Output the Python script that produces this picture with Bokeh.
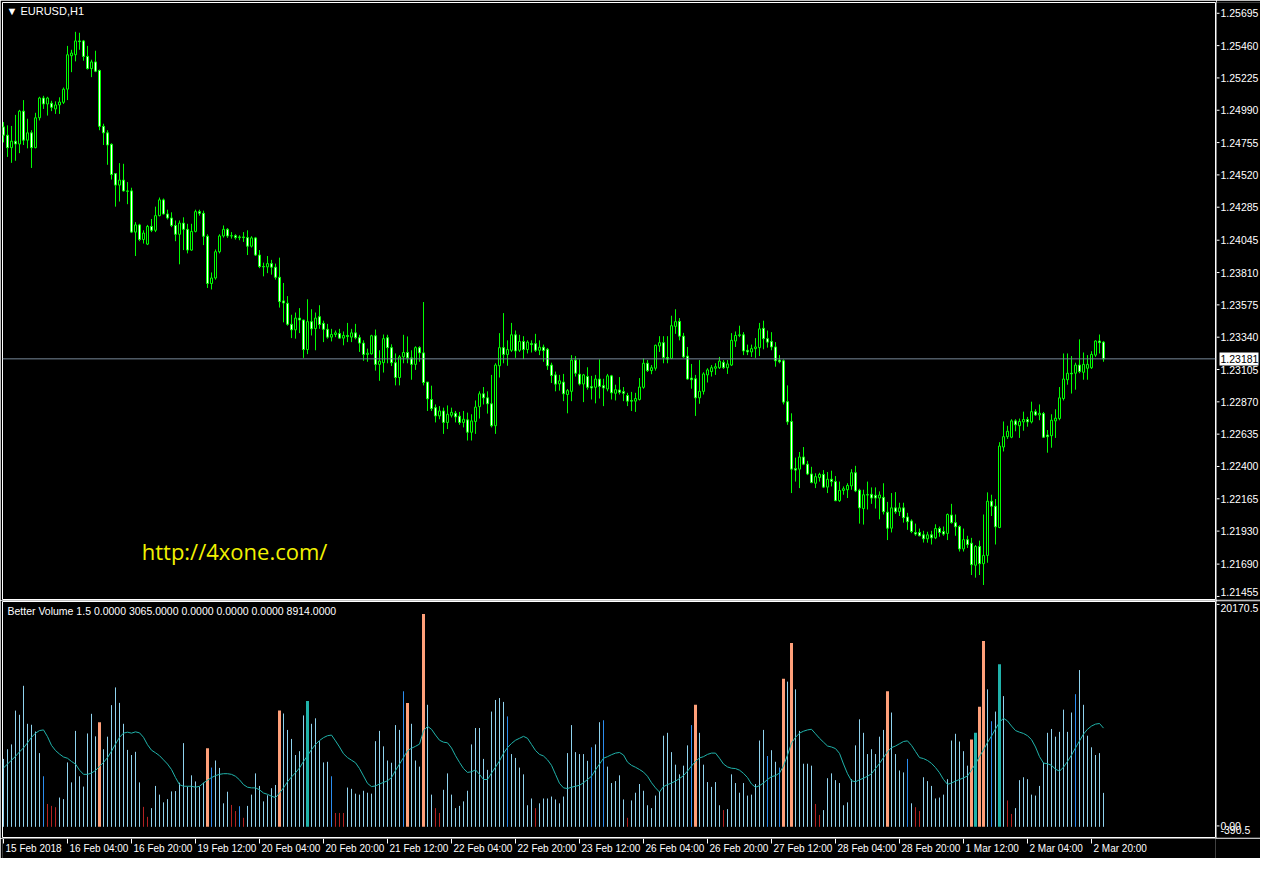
from bokeh.plotting import figure
from bokeh.layouts import column, row
from bokeh.models import Range1d, Span, Label
from bokeh.core.properties import value
from bokeh.embed import file_html
from bokeh.resources import INLINE

# EURUSD H1, 15 Feb 2018 12:00 .. 2 Mar 2018 23:00 (276 bars)
opens = [
    1.24859, 1.24799, 1.24709, 1.24756, 1.24735, 1.24973, 1.24763, 1.24816, 1.24709, 1.24925,
    1.25068, 1.25025, 1.25030, 1.24989, 1.25018, 1.25037, 1.25132, 1.25374, 1.25381, 1.25481,
    1.25481, 1.25369, 1.25281, 1.25329, 1.25267, 1.24863, 1.24816, 1.24733, 1.24521, 1.24438,
    1.24474, 1.24396, 1.24396, 1.24098, 1.24150, 1.24044, 1.24011, 1.24139, 1.24111, 1.24217,
    1.24331, 1.24229, 1.24200, 1.24146, 1.24082, 1.24163, 1.24118, 1.23968, 1.24103, 1.24246,
    1.24234, 1.24068, 1.23726, 1.23766, 1.23956, 1.24070, 1.24118, 1.24070, 1.24072, 1.24058,
    1.24063, 1.24058, 1.23996, 1.24056, 1.23932, 1.23849, 1.23846, 1.23870, 1.23844, 1.23771,
    1.23600, 1.23583, 1.23431, 1.23391, 1.23476, 1.23462, 1.23248, 1.23450, 1.23400, 1.23486,
    1.23438, 1.23395, 1.23338, 1.23357, 1.23364, 1.23331, 1.23350, 1.23338, 1.23369, 1.23334,
    1.23295, 1.23213, 1.23217, 1.23348, 1.23141, 1.23153, 1.23334, 1.23262, 1.23153, 1.23046,
    1.23195, 1.23227, 1.23188, 1.23141, 1.23262, 1.23224, 1.23013, 1.22887, 1.22828, 1.22768,
    1.22804, 1.22721, 1.22773, 1.22787, 1.22766, 1.22721, 1.22740, 1.22650, 1.22728, 1.22835,
    1.22928, 1.22899, 1.22856, 1.22697, 1.23131, 1.23262, 1.23213, 1.23243, 1.23355, 1.23243,
    1.23307, 1.23248, 1.23291, 1.23291, 1.23243, 1.23265, 1.23250, 1.23136, 1.23065, 1.23000,
    1.23013, 1.22923, 1.22946, 1.23172, 1.23070, 1.22999, 1.23053, 1.22980, 1.22975, 1.23035,
    1.22987, 1.22963, 1.23058, 1.22932, 1.22956, 1.22944, 1.22916, 1.22880, 1.22875, 1.22887,
    1.22975, 1.23149, 1.23096, 1.23113, 1.23274, 1.23298, 1.23191, 1.23184, 1.23416, 1.23452,
    1.23345, 1.23201, 1.23042, 1.23037, 1.22899, 1.22946, 1.23065, 1.23089, 1.23113, 1.23117,
    1.23156, 1.23117, 1.23136, 1.23310, 1.23350, 1.23355, 1.23243, 1.23231, 1.23255, 1.23262,
    1.23402, 1.23327, 1.23307, 1.23267, 1.23172, 1.23167, 1.22871, 1.22728, 1.22388, 1.22383,
    1.22471, 1.22419, 1.22348, 1.22281, 1.22322, 1.22345, 1.22253, 1.22310, 1.22293, 1.22155,
    1.22229, 1.22234, 1.22262, 1.22357, 1.22231, 1.22098, 1.22198, 1.22201, 1.22194, 1.22174,
    1.22179, 1.22072, 1.21956, 1.22103, 1.22075, 1.22103, 1.22037, 1.22008, 1.21925, 1.21925,
    1.21908, 1.21879, 1.21908, 1.21886, 1.21954, 1.21932, 1.21918, 1.22051, 1.21996, 1.21968,
    1.21806, 1.21873, 1.21847, 1.21688, 1.21823, 1.21699, 1.21759, 1.22151, 1.22115, 1.21961,
    1.22543, 1.22618, 1.22614, 1.22732, 1.22697, 1.22725, 1.22742, 1.22725, 1.22799, 1.22775,
    1.22785, 1.22630, 1.22625, 1.22732, 1.22749, 1.22894, 1.23030, 1.23077, 1.23077, 1.23136,
    1.23084, 1.23113, 1.23117, 1.23208, 1.23310, 1.23302,
]
highs = [
    1.24894, 1.24870, 1.24866, 1.24946, 1.24982, 1.25053, 1.24918, 1.24835, 1.24961, 1.25077,
    1.25084, 1.25077, 1.25048, 1.25044, 1.25073, 1.25144, 1.25445, 1.25417, 1.25547, 1.25540,
    1.25488, 1.25445, 1.25345, 1.25410, 1.25274, 1.24882, 1.24835, 1.24740, 1.24521, 1.24597,
    1.24592, 1.24460, 1.24419, 1.24170, 1.24158, 1.24111, 1.24150, 1.24193, 1.24282, 1.24348,
    1.24341, 1.24260, 1.24241, 1.24182, 1.24182, 1.24205, 1.24158, 1.24158, 1.24260, 1.24260,
    1.24253, 1.24082, 1.23806, 1.23972, 1.24082, 1.24146, 1.24127, 1.24098, 1.24082, 1.24075,
    1.24098, 1.24111, 1.24068, 1.24063, 1.23968, 1.23877, 1.23925, 1.23897, 1.23870, 1.23913,
    1.23730, 1.23635, 1.23500, 1.23516, 1.23548, 1.23464, 1.23612, 1.23540, 1.23516, 1.23569,
    1.23457, 1.23434, 1.23398, 1.23386, 1.23398, 1.23379, 1.23441, 1.23398, 1.23434, 1.23355,
    1.23315, 1.23255, 1.23355, 1.23393, 1.23243, 1.23357, 1.23355, 1.23286, 1.23220, 1.23208,
    1.23355, 1.23343, 1.23243, 1.23272, 1.23272, 1.23592, 1.23013, 1.22987, 1.22851, 1.22839,
    1.22828, 1.22844, 1.22828, 1.22804, 1.22797, 1.22804, 1.22792, 1.22780, 1.22880, 1.22946,
    1.22977, 1.22946, 1.23065, 1.23149, 1.23367, 1.23512, 1.23315, 1.23441, 1.23386, 1.23355,
    1.23345, 1.23315, 1.23315, 1.23362, 1.23315, 1.23284, 1.23260, 1.23153, 1.23089, 1.23065,
    1.23072, 1.22963, 1.23208, 1.23201, 1.23177, 1.23072, 1.23120, 1.23058, 1.23065, 1.23177,
    1.23037, 1.23072, 1.23065, 1.22994, 1.23049, 1.22977, 1.22935, 1.22942, 1.22935, 1.23042,
    1.23184, 1.23172, 1.23136, 1.23284, 1.23345, 1.23345, 1.23345, 1.23493, 1.23540, 1.23476,
    1.23369, 1.23267, 1.23144, 1.23065, 1.23172, 1.23084, 1.23113, 1.23136, 1.23149, 1.23195,
    1.23172, 1.23172, 1.23367, 1.23379, 1.23421, 1.23374, 1.23284, 1.23284, 1.23331, 1.23441,
    1.23457, 1.23386, 1.23374, 1.23302, 1.23208, 1.23177, 1.22989, 1.22787, 1.22466, 1.22507,
    1.22543, 1.22443, 1.22400, 1.22353, 1.22357, 1.22376, 1.22362, 1.22372, 1.22333, 1.22293,
    1.22258, 1.22281, 1.22383, 1.22407, 1.22241, 1.22234, 1.22293, 1.22251, 1.22251, 1.22222,
    1.22281, 1.22146, 1.22210, 1.22217, 1.22140, 1.22140, 1.22067, 1.22020, 1.21989, 1.21953,
    1.21937, 1.21930, 1.21937, 1.21984, 1.21968, 1.21968, 1.22062, 1.22132, 1.22055, 1.21977,
    1.21953, 1.21901, 1.21886, 1.21834, 1.21866, 1.22055, 1.22215, 1.22198, 1.22167, 1.22578,
    1.22728, 1.22697, 1.22744, 1.22744, 1.22749, 1.22799, 1.22761, 1.22871, 1.22816, 1.22851,
    1.22797, 1.22666, 1.22780, 1.22816, 1.22977, 1.23220, 1.23220, 1.23201, 1.23153, 1.23322,
    1.23227, 1.23208, 1.23236, 1.23315, 1.23357, 1.23310,
]
lows = [
    1.24747, 1.24642, 1.24599, 1.24614, 1.24669, 1.24728, 1.24704, 1.24562, 1.24704, 1.24906,
    1.24989, 1.24941, 1.24973, 1.24953, 1.24953, 1.25025, 1.25053, 1.25255, 1.25333, 1.25417,
    1.25338, 1.25274, 1.25219, 1.25255, 1.24835, 1.24728, 1.24585, 1.24478, 1.24282, 1.24319,
    1.24391, 1.24300, 1.24091, 1.23925, 1.24032, 1.24015, 1.24004, 1.24098, 1.24098, 1.24212,
    1.24225, 1.24189, 1.24134, 1.24032, 1.23865, 1.23968, 1.23944, 1.23963, 1.24096, 1.24217,
    1.24004, 1.23694, 1.23683, 1.23754, 1.23944, 1.24058, 1.24056, 1.24051, 1.24044, 1.24039,
    1.24027, 1.23932, 1.23986, 1.23925, 1.23837, 1.23778, 1.23801, 1.23790, 1.23754, 1.23552,
    1.23445, 1.23421, 1.23331, 1.23327, 1.23367, 1.23188, 1.23215, 1.23350, 1.23243, 1.23398,
    1.23302, 1.23327, 1.23307, 1.23338, 1.23327, 1.23279, 1.23302, 1.23302, 1.23322, 1.23231,
    1.23167, 1.23160, 1.23213, 1.23096, 1.23022, 1.23082, 1.23149, 1.23129, 1.22989, 1.22989,
    1.23149, 1.23149, 1.23030, 1.23101, 1.23160, 1.22989, 1.22804, 1.22804, 1.22721, 1.22744,
    1.22638, 1.22673, 1.22757, 1.22721, 1.22704, 1.22685, 1.22590, 1.22590, 1.22638, 1.22749,
    1.22851, 1.22785, 1.22685, 1.22638, 1.23046, 1.23149, 1.23131, 1.23231, 1.23188, 1.23231,
    1.23179, 1.23220, 1.23227, 1.23231, 1.23208, 1.23160, 1.23101, 1.23006, 1.22946, 1.22951,
    1.22875, 1.22787, 1.22875, 1.23053, 1.22989, 1.22868, 1.22958, 1.22887, 1.22859, 1.22894,
    1.22839, 1.22946, 1.22887, 1.22880, 1.22923, 1.22875, 1.22839, 1.22804, 1.22797, 1.22880,
    1.22965, 1.23086, 1.23070, 1.23096, 1.23231, 1.23149, 1.23149, 1.23179, 1.23362, 1.23315,
    1.23188, 1.23030, 1.22965, 1.22768, 1.22856, 1.22923, 1.23010, 1.23053, 1.23065, 1.23108,
    1.23108, 1.23072, 1.23129, 1.23267, 1.23338, 1.23208, 1.23208, 1.23195, 1.23188, 1.23201,
    1.23250, 1.23262, 1.23243, 1.23124, 1.23149, 1.22851, 1.22704, 1.22210, 1.22293, 1.22246,
    1.22412, 1.22340, 1.22281, 1.22246, 1.22293, 1.22246, 1.22210, 1.22258, 1.22151, 1.22146,
    1.22198, 1.22174, 1.22234, 1.22217, 1.21989, 1.21982, 1.22091, 1.22132, 1.22098, 1.22020,
    1.22055, 1.21870, 1.21925, 1.22060, 1.22044, 1.21996, 1.21944, 1.21920, 1.21901, 1.21897,
    1.21852, 1.21851, 1.21838, 1.21877, 1.21894, 1.21901, 1.21870, 1.21989, 1.21901, 1.21787,
    1.21787, 1.21813, 1.21617, 1.21598, 1.21617, 1.21545, 1.21706, 1.22044, 1.21838, 1.21956,
    1.22511, 1.22602, 1.22607, 1.22657, 1.22609, 1.22661, 1.22690, 1.22714, 1.22768, 1.22737,
    1.22609, 1.22502, 1.22538, 1.22609, 1.22737, 1.22880, 1.22994, 1.22930, 1.22958, 1.23077,
    1.23030, 1.23030, 1.23108, 1.23195, 1.23220, 1.23160,
]
closes = [
    1.24799, 1.24709, 1.24756, 1.24735, 1.24973, 1.24763, 1.24816, 1.24709, 1.24925, 1.25068,
    1.25025, 1.25068, 1.25001, 1.25018, 1.25039, 1.25132, 1.25381, 1.25393, 1.25481, 1.25476,
    1.25369, 1.25281, 1.25329, 1.25262, 1.24863, 1.24816, 1.24728, 1.24514, 1.24438, 1.24474,
    1.24396, 1.24393, 1.24098, 1.24150, 1.24044, 1.24091, 1.24139, 1.24111, 1.24217, 1.24331,
    1.24229, 1.24200, 1.24146, 1.24082, 1.24163, 1.24118, 1.23968, 1.24103, 1.24246, 1.24234,
    1.24068, 1.23726, 1.23766, 1.23956, 1.24070, 1.24118, 1.24070, 1.24072, 1.24058, 1.24063,
    1.24058, 1.23996, 1.24056, 1.23932, 1.23849, 1.23846, 1.23870, 1.23844, 1.23771, 1.23595,
    1.23585, 1.23431, 1.23391, 1.23476, 1.23462, 1.23248, 1.23450, 1.23398, 1.23476, 1.23429,
    1.23395, 1.23338, 1.23357, 1.23369, 1.23331, 1.23350, 1.23343, 1.23369, 1.23334, 1.23295,
    1.23213, 1.23222, 1.23348, 1.23141, 1.23165, 1.23327, 1.23262, 1.23153, 1.23046, 1.23195,
    1.23227, 1.23188, 1.23141, 1.23262, 1.23224, 1.23010, 1.22892, 1.22821, 1.22768, 1.22804,
    1.22721, 1.22780, 1.22794, 1.22761, 1.22721, 1.22744, 1.22650, 1.22732, 1.22832, 1.22928,
    1.22899, 1.22856, 1.22697, 1.23136, 1.23262, 1.23213, 1.23248, 1.23355, 1.23238, 1.23307,
    1.23248, 1.23302, 1.23284, 1.23243, 1.23265, 1.23241, 1.23131, 1.23060, 1.22998, 1.23022,
    1.22928, 1.22951, 1.23172, 1.23077, 1.22999, 1.23065, 1.22975, 1.22970, 1.23035, 1.22982,
    1.22970, 1.23058, 1.22935, 1.22958, 1.22939, 1.22932, 1.22875, 1.22875, 1.22894, 1.22977,
    1.23149, 1.23096, 1.23117, 1.23279, 1.23298, 1.23191, 1.23179, 1.23421, 1.23450, 1.23345,
    1.23195, 1.23035, 1.23030, 1.22899, 1.22946, 1.23072, 1.23101, 1.23117, 1.23124, 1.23165,
    1.23117, 1.23144, 1.23315, 1.23350, 1.23355, 1.23238, 1.23231, 1.23255, 1.23267, 1.23398,
    1.23327, 1.23302, 1.23267, 1.23167, 1.23160, 1.22868, 1.22725, 1.22383, 1.22376, 1.22471,
    1.22419, 1.22348, 1.22286, 1.22329, 1.22345, 1.22253, 1.22310, 1.22293, 1.22155, 1.22229,
    1.22241, 1.22265, 1.22357, 1.22226, 1.22103, 1.22198, 1.22196, 1.22174, 1.22174, 1.22196,
    1.22075, 1.21956, 1.22103, 1.22075, 1.22103, 1.22032, 1.22003, 1.21932, 1.21913, 1.21901,
    1.21879, 1.21908, 1.21886, 1.21954, 1.21925, 1.21913, 1.22055, 1.21996, 1.21966, 1.21806,
    1.21873, 1.21837, 1.21692, 1.21823, 1.21699, 1.21759, 1.22151, 1.22115, 1.21966, 1.22550,
    1.22618, 1.22657, 1.22732, 1.22704, 1.22728, 1.22742, 1.22725, 1.22799, 1.22775, 1.22787,
    1.22614, 1.22618, 1.22737, 1.22752, 1.22899, 1.23035, 1.23077, 1.23072, 1.23136, 1.23089,
    1.23141, 1.23141, 1.23213, 1.23310, 1.23298, 1.23181,
]
volumes = [
    6134, 7006, 7442, 10494, 10116, 12733, 9302, 9215, 8605, 6657,
    4564, 2064, 1890, 1773, 2645, 2500, 5814, 4012, 8663, 4564,
    3634, 8430, 10204, 8169, 9448, 7006, 8140, 10988, 12587, 11192,
    9302, 6948, 6483, 6773, 4012, 1802, 901, 1686, 3692, 2907,
    2209, 2500, 3198, 3227, 3983, 7558, 3634, 4651, 4099, 3634,
    3983, 7093, 5349, 5988, 5320, 2122, 3169, 1977, 1424, 1860,
    814, 1890, 2907, 4826, 3692, 2297, 2849, 3488, 3779, 10494,
    10233, 8750, 7936, 6483, 6831, 10058, 11366, 9302, 9797, 7733,
    5814, 5872, 4564, 1250, 1250, 1250, 3547, 3430, 2994, 2907,
    3256, 3081, 2994, 7733, 8663, 7268, 5988, 5785, 9186, 8750,
    12238, 11192, 9302, 5988, 5436, 19215, 11018, 2907, 1686, 1250,
    3343, 4826, 2907, 1686, 1890, 2297, 3256, 7442, 8924, 8924,
    6134, 5145, 10407, 11454, 11628, 11279, 9971, 6570, 6221, 5349,
    4738, 1948, 2558, 1686, 2122, 2558, 2558, 2733, 2471, 2122,
    2733, 6657, 9186, 6744, 6570, 6570, 5959, 7180, 7442, 9448,
    9622, 5436, 3954, 4128, 4651, 2471, 814, 2384, 3081, 3866,
    3256, 1948, 1686, 2820, 3169, 8227, 8488, 6744, 5611, 4738,
    5523, 7355, 9186, 11018, 8488, 5611, 4041, 3605, 4041, 1948,
    1512, 1599, 4738, 3954, 3081, 3954, 2820, 2907, 3866, 7791,
    8750, 6395, 6919, 5872, 5349, 13372, 13111, 16599, 12413, 8663,
    5698, 5698, 5523, 2064, 1076, 1512, 4390, 4826, 4215, 3954,
    1948, 2209, 4302, 7355, 9709, 8488, 6570, 7006, 6570, 8140,
    8750, 12238, 10320, 6570, 5087, 4913, 6134, 2122, 1773, 1424,
    4477, 4128, 3692, 2558, 2645, 2907, 4302, 7791, 8401, 7704,
    6831, 5523, 7878, 8488, 10843, 16773, 12413, 9535, 10407, 14680,
    11802, 2384, 1163, 1686, 4215, 4477, 4302, 2907, 2820, 3692,
    5785, 8488, 8837, 8140, 8576, 10581, 8576, 10320, 11977, 14157,
    11018, 8227, 7180, 6483, 6657, 3065,
]
volume_avg = [
    5320, 5669, 6017, 6366, 6773, 7122, 7587, 8081, 8459, 8692,
    8750, 8140, 7355, 6890, 6570, 6308, 6192, 5901, 5669, 5116,
    4738, 4738, 4855, 5087, 5465, 5814, 6250, 6831, 7471, 8081,
    8459, 8547, 8459, 8576, 8488, 8081, 7413, 6919, 6686, 6424,
    6047, 5669, 5174, 4448, 3808, 3663, 3663, 3663, 3576, 3663,
    3954, 4215, 4448, 4622, 4738, 4797, 4797, 4738, 4564, 4244,
    3808, 3576, 3517, 3517, 3343, 3052, 2936, 2762, 2645, 3052,
    3517, 4070, 4506, 4884, 5320, 5901, 6424, 6977, 7442, 7791,
    8052, 8227, 8285, 7762, 7209, 6599, 6250, 6017, 5785, 5262,
    4593, 3924, 3634, 3692, 3866, 4012, 4157, 4448, 5087, 5669,
    6250, 6890, 7093, 7268, 7471, 8663, 9070, 8808, 8285, 7820,
    7645, 7587, 7122, 6424, 5814, 5262, 4913, 4971, 5145, 4738,
    4273, 4273, 4855, 5378, 5959, 6628, 7151, 7529, 7820, 7994,
    8169, 7994, 7442, 6890, 6541, 6395, 6047, 5552, 4738, 3924,
    3517, 3459, 3576, 3663, 3750, 3983, 4273, 4564, 5145, 5669,
    6192, 6337, 6512, 6657, 6715, 6483, 5843, 5552, 5378, 5174,
    4942, 4564, 3983, 3517, 3140, 3634, 3808, 3954, 4128, 4361,
    4622, 5029, 5494, 5901, 6221, 6337, 6541, 6657, 6657, 6192,
    5669, 5407, 5291, 5262, 5116, 4826, 4448, 3866, 3576, 3721,
    3954, 4273, 4535, 4622, 4855, 5494, 6483, 7558, 8081, 8459,
    8634, 8750, 8808, 8401, 7994, 7645, 7297, 7209, 7064, 6628,
    5669, 4797, 4157, 4070, 4244, 4390, 4564, 4797, 5262, 5727,
    6250, 6773, 7151, 7297, 7500, 7704, 7762, 7355, 6802, 6250,
    6163, 5988, 5727, 5349, 4884, 4273, 3837, 3954, 4128, 4273,
    4419, 4593, 5116, 5698, 6337, 6948, 7616, 8198, 8837, 9448,
    9797, 9564, 9099, 8692, 8547, 8430, 8227, 7878, 7209, 6337,
    5756, 5698, 5552, 5204, 5029, 5378, 5901, 6483, 7122, 7762,
    8372, 8808, 9099, 9273, 9331, 8914,
]
# bar colouring of the Better Volume indicator
blue_bars = [10, 52, 59, 82, 100, 126, 147, 150, 172, 191, 194, 226, 247, 268]
red_bars = [11, 12, 13, 35, 36, 57, 58, 60, 83, 84, 85, 108, 109, 133, 156, 180,
            203, 204, 228, 229, 251, 252]
salmon_bars = [24, 51, 69, 101, 105, 173, 195, 197, 221, 242, 244, 245]
teal_bars = [76, 243, 249]

time_labels = ["15 Feb 2018", "16 Feb 04:00", "16 Feb 20:00", "19 Feb 12:00", "20 Feb 04:00",
               "20 Feb 20:00", "21 Feb 12:00", "22 Feb 04:00", "22 Feb 20:00", "23 Feb 12:00",
               "26 Feb 04:00", "26 Feb 20:00", "27 Feb 12:00", "28 Feb 04:00", "28 Feb 20:00",
               "1 Mar 12:00", "2 Mar 04:00", "2 Mar 20:00"]
price_ticks = [1.25695, 1.25460, 1.25225, 1.24990, 1.24755, 1.24520, 1.24285, 1.24045,
               1.23810, 1.23575, 1.23340, 1.23105, 1.22870, 1.22635, 1.22400, 1.22165,
               1.21930, 1.21690, 1.21455]
last_price = 1.23181
volume_ticks = [20170.5, 0.0, -390.5]
volume_tick_labels = ["20170.5", "0.00", "-390.5"]
indicator_title = "Better Volume 1.5 0.0000 3065.0000 0.0000 0.0000 0.0000 8914.0000"

FONT = "Liberation Sans"
LIME = "#00FF00"
W = 1260
AXW = 44                 # width of the price scale strip
PW = W - AXW             # width of the chart panes
FRAME_W = PW - 3
P_LO, P_HI = 1.21440, 1.25759
V_LO, V_HI = -964, 20346

bars = list(range(len(closes)))
# 4 px per bar; start chosen so bar centres fall on pixel centres
x_range = Range1d(-0.25, -0.25 + FRAME_W / 4)


def black(p):
    p.background_fill_color = "black"
    p.border_fill_color = "black"
    p.grid.visible = False
    return p


def pane(height):
    p = figure(width=PW, height=height, x_range=x_range,
               x_axis_location=None, y_axis_location=None,
               toolbar_location=None, output_backend="svg",
               min_border_left=2, min_border_right=1, min_border_top=1, min_border_bottom=1)
    black(p)
    p.outline_line_color = "white"
    return p


def scale_strip(height, y_range):
    s = figure(width=AXW, height=height, x_range=Range1d(0, AXW), y_range=y_range,
               x_axis_location=None, y_axis_location=None,
               toolbar_location=None, output_backend="svg", min_border=0)
    black(s)
    s.outline_line_color = None
    return s


# ---- price pane
p = pane(600)
p.min_border_top = 2
p.y_range = Range1d(P_LO, P_HI)
body_top = [max(o, c) for o, c in zip(opens, closes)]
body_bot = [min(o, c) for o, c in zip(opens, closes)]
body_fill = ["black" if c >= o else "white" for o, c in zip(opens, closes)]
p.segment(bars, highs, bars, lows, line_color=LIME, line_width=1)
p.vbar(x=bars, width=0.5, top=body_top, bottom=body_bot,
       fill_color=body_fill, line_color=LIME, line_width=1)
p.add_layout(Span(location=last_price, dimension="width", line_color="#778899", line_width=1))
p.add_layout(Label(x=4, x_units="screen", y=1.25697, text="\u25BC EURUSD,H1",
                   text_color="white", text_font=FONT, text_font_size="11px",
                   text_baseline="middle"))
p.add_layout(Label(x=34.55, y=1.21790, text="http://4xone.com/", text_color="#F2F200",
                   text_font="Open Sans", text_font_size="22px", text_baseline="middle"))

ppx = (P_HI - P_LO) / 597
pa = scale_strip(600, Range1d(P_LO - ppx, P_HI + 2 * ppx))
pa.segment(0, price_ticks, 3, price_ticks, line_color="white", line_width=1)
pa.text(x=4, y=price_ticks[:-1], text=[f"{t:.5f}" for t in price_ticks[:-1]],
        text_color="white", text_font=value(FONT), text_font_size=value("10.5px"),
        text_baseline="middle")
pa.text(x=4, y=price_ticks[-1:], text=[f"{price_ticks[-1]:.5f}"],
        text_color="white", text_font=value(FONT), text_font_size=value("10.5px"),
        text_baseline="bottom")
pa.rect(x=22.5, y=last_price, width=39, height=13, height_units="screen",
        fill_color="white", line_color=None)
pa.text(x=4, y=[last_price], text=[f"{last_price:.5f}"], text_color="black",
        text_font=value(FONT), text_font_size=value("10.5px"), text_baseline="middle")

# ---- volume pane
q = pane(238)
q.y_range = Range1d(V_LO, V_HI)
special = set(blue_bars) | set(red_bars) | set(salmon_bars) | set(teal_bars)
normal = [i for i in bars if i not in special]
for idx, color in [(normal, "#8FD3EF"), (blue_bars, "#2B8EF0"), (red_bars, "#B22222")]:
    q.segment(idx, [0] * len(idx), idx, [volumes[i] for i in idx],
              line_color=color, line_width=1)
for idx, color in [(salmon_bars, "#FFA07A"), (teal_bars, "#20B2AA")]:
    q.vbar(x=idx, width=0.75, top=[volumes[i] for i in idx], bottom=0,
           fill_color=color, line_color=None)
q.line(bars, volume_avg, line_color="#20B2AA", line_width=1)
q.add_layout(Label(x=5, x_units="screen", y=19500, text=indicator_title,
                   text_color="white", text_font=FONT, text_font_size="10.5px",
                   text_baseline="middle"))

vpx = (V_HI - V_LO) / 236
qa = scale_strip(238, Range1d(V_LO - vpx, V_HI + vpx))
qa.segment(0, volume_ticks[:2], 3, volume_ticks[:2], line_color="white", line_width=1)
qa.text(x=4, y=volume_ticks[:1], text=volume_tick_labels[:1], text_color="white",
        text_font=value(FONT), text_font_size=value("10.5px"), text_baseline="top")
qa.text(x=4, y=volume_ticks[1:], text=volume_tick_labels[1:], text_color="white",
        text_font=value(FONT), text_font_size=value("10.5px"), text_baseline="middle")

# ---- time scale
d = figure(width=W, height=20, x_range=x_range, y_range=Range1d(0, 20),
           x_axis_location=None, y_axis_location=None,
           toolbar_location=None, output_backend="svg",
           min_border_left=2, min_border_right=AXW + 1, min_border_top=0, min_border_bottom=0)
black(d)
d.outline_line_color = None
tick_bars = bars[::16]
d.segment(tick_bars, 20, tick_bars, 15, line_color="white", line_width=1)
d.text(x=[t + 0.5 for t in tick_bars], y=16, text=time_labels, text_color="white",
       text_font=value(FONT), text_font_size=value("10px"), text_baseline="top")

layout = column(row(p, pa), row(q, qa), d)
open("out.html", "w").write(file_html(layout, INLINE))
